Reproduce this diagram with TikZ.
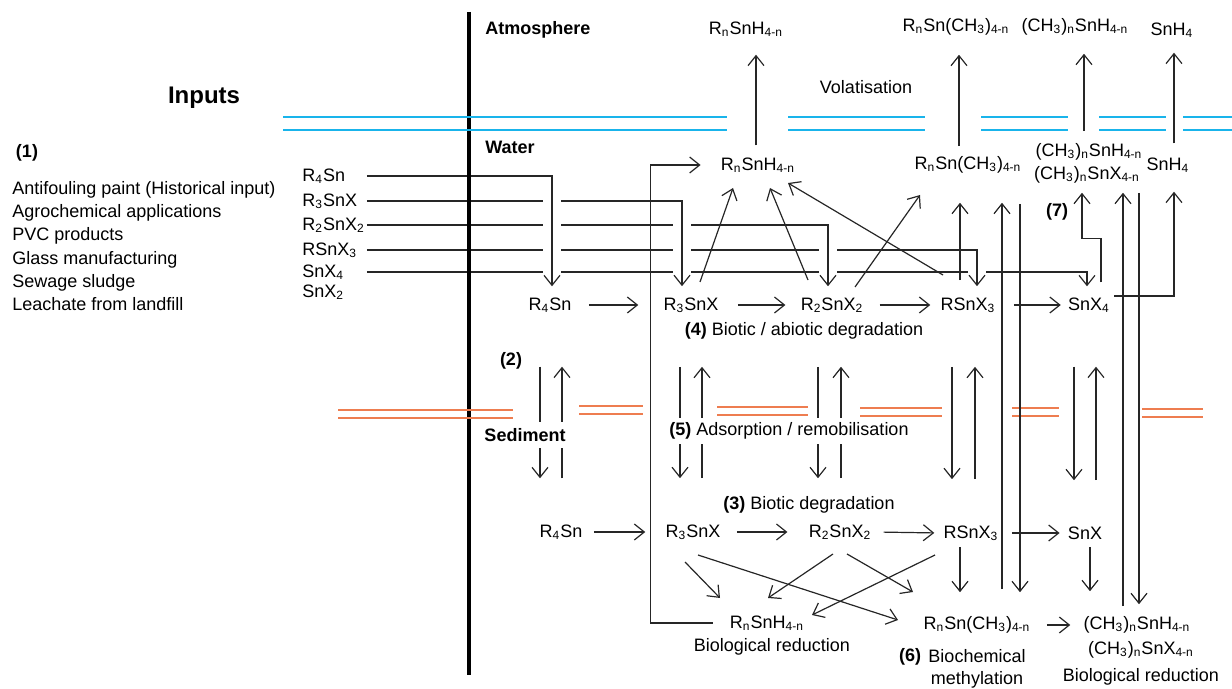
\documentclass[tikz,border=0pt]{standalone}
\usepackage{fontspec}
\setmainfont{Liberation Sans}
\usetikzlibrary{arrows.meta,calc}
\definecolor{waterline}{RGB}{25,180,235}
\definecolor{sedline}{RGB}{238,125,80}
\newcommand{\chsub}[1]{\textsubscript{#1}}

\begin{document}
\begin{tikzpicture}[x=0.5pt,y=-0.5pt,
  sp/.style={font=\fontsize{9}{11}\selectfont,inner sep=2pt},
  insp/.style={sp,anchor=west,text width=30pt,align=left},
  txt/.style={font=\fontsize{9}{11}\selectfont,inner sep=1pt},
  hd/.style={font=\fontsize{9}{11}\selectfont\bfseries,inner sep=1pt},
  arr/.style={-{Straight Barb[length=5pt,width=8pt]},line width=0.6pt,draw=black!85},
  inl/.style={arr,shorten >=3.5pt,preaction={draw=white,line width=9pt,-}}]
\useasboundingbox (0,0) rectangle (1232,689);

\node[hd,font=\fontsize{12}{14}\selectfont\bfseries] (inputs) at (204,98) {Inputs};
\node[hd] (n1) at (27,153) {(1)};
\node[txt,anchor=west,align=left,font=\fontsize{9}{11.6}\selectfont] (src) at (10,246) {Antifouling paint (Historical input)\\Agrochemical applications\\PVC products\\Glass manufacturing\\Sewage sludge\\Leachate from landfill};

\node[insp] (in4) at (298,176) {R\chsub{4}Sn};
\node[insp] (in3) at (298,201) {R\chsub{3}SnX};
\node[insp] (in2) at (298,225) {R\chsub{2}SnX\chsub{2}};
\node[insp] (in1) at (298,250) {RSnX\chsub{3}};
\node[insp] (in0) at (298,272) {SnX\chsub{4}};
\node[insp] (in0b) at (298,292) {SnX\chsub{2}};

\node[hd,anchor=west] (atm) at (483,30) {Atmosphere};
\node[hd,anchor=west] (wat) at (483,147) {Water};
\node[hd] (n2) at (511,361) {(2)};
\node[txt] (vol) at (866,87) {Volatisation};
\node[txt] (deg4) at (804,331) {\textbf{(4)} Biotic / abiotic degradation};
\node[txt] (deg3) at (809,505) {\textbf{(3)} Biotic degradation};
\node[hd] (n7) at (1057,212) {(7)};
\node[txt] (red1) at (772,647) {Biological reduction};
\node[hd] (n6) at (910,657) {(6)};
\node[txt,align=center] (meth) at (977,669) {Biochemical\\methylation};
\node[txt] (red2) at (1141,677) {Biological reduction};

% atmosphere
\node[sp] (aRH) at (746,29) {R\chsub{n}SnH\chsub{4-n}};
\node[sp] (aRM) at (956,27) {R\chsub{n}Sn(CH\chsub{3})\chsub{4-n}};
\node[sp] (aMH) at (1075,27) {(CH\chsub{3})\chsub{n}SnH\chsub{4-n}};
\node[sp] (aSH) at (1172,30) {SnH\chsub{4}};

% water
\node[sp] (wRH) at (758,165) {R\chsub{n}SnH\chsub{4-n}};
\node[sp] (wRM) at (968,165) {R\chsub{n}Sn(CH\chsub{3})\chsub{4-n}};
\node[sp] (wMH) at (1089,152) {(CH\chsub{3})\chsub{n}SnH\chsub{4-n}};
\node[sp] (wMX) at (1087,175) {(CH\chsub{3})\chsub{n}SnX\chsub{4-n}};
\node[sp] (wSH) at (1168,165) {SnH\chsub{4}};
\node[sp] (w4) at (550,305) {R\chsub{4}Sn};
\node[sp] (w3) at (691,305) {R\chsub{3}SnX};
\node[sp] (w2) at (832,305) {R\chsub{2}SnX\chsub{2}};
\node[sp] (w1) at (968,305) {RSnX\chsub{3}};
\node[sp] (w0) at (1089,305) {SnX\chsub{4}};

% sediment
\node[sp] (s4) at (561,532) {R\chsub{4}Sn};
\node[sp] (s3) at (693,532) {R\chsub{3}SnX};
\node[sp] (s2) at (840,532) {R\chsub{2}SnX\chsub{2}};
\node[sp] (s1) at (971,533) {RSnX\chsub{3}};
\node[sp] (s0) at (1085,533) {SnX};
\node[sp] (pRH) at (767,623) {R\chsub{n}SnH\chsub{4-n}};
\node[sp] (pRM) at (977,625) {R\chsub{n}Sn(CH\chsub{3})\chsub{4-n}};
\node[sp] (pMH) at (1137,625) {(CH\chsub{3})\chsub{n}SnH\chsub{4-n}};
\node[sp] (pMX) at (1141,650) {(CH\chsub{3})\chsub{n}SnX\chsub{4-n}};

% inputs
\draw[inl] (in0.east) -| ([xshift=-1pt]w0.north);
\draw[inl] (in1.east) -| ([xshift=4.5pt]w1.north);
\draw[inl] (in2.east) -| ([xshift=-2pt]w2.north);
\draw[inl] (in3.east) -| ([xshift=-4.5pt]w3.north);
\draw[inl] (in4.east) -| ([xshift=1pt]w4.north);

\draw[line width=2pt] (469,12) -- (469,675);
\foreach \xa/\xb in {283/727,788/925,981/1068,1099/1166,1183/1232}
  \draw[waterline,line width=1pt] (\xa,117.5) -- (\xb,117.5) (\xa,130) -- (\xb,130);
\foreach \xa/\xb/\ya in {338/513/410,579/643/406,717/808/407,860/942/408,1012/1059/408,1142/1203/409}
  \draw[sedline,line width=0.8pt] (\xa,\ya) -- (\xb,\ya) (\xa,\ya+8) -- (\xb,\ya+8);

\draw[arr,shorten <=6.5pt,shorten >=10.5pt] (w4.east) -- (w3.west);
\draw[arr,shorten <=7.5pt,shorten >=5.5pt] (w3.east) -- (w2.west);
\draw[arr,shorten <=6pt,shorten >=3pt] (w2.east) -- (w1.west);
\draw[arr,shorten <=7pt,shorten >=1.5pt] (w1.east) -- (w0.west);

\draw[arr,shorten <=4pt,shorten >=7pt] ([xshift=-1pt]wRH.north) -- ([xshift=-1pt]wRH.north |- aRH.south);
\draw[arr,shorten <=3pt,shorten >=7.5pt] ([xshift=-4.5pt]wRM.north) -- ([xshift=-4.5pt]wRM.north |- aRM.south);
\draw[arr,shorten <=4pt,shorten >=7pt] ([xshift=-2.5pt]wMH.north) -- ([xshift=-2.5pt]wMH.north |- aMH.south);
\draw[arr,shorten <=5pt,shorten >=5.5pt] ([xshift=3pt]wSH.north) -- ([xshift=3pt]wSH.north |- aSH.south);

\draw[arr] ([shift={(9,-23)}]w3.center) -- ([shift={(-25,23)}]wRH.center);
\draw[arr] ([shift={(-24,-25)}]w2.center) -- ([shift={(12,23)}]wRH.center);
\draw[arr] ([shift={(-25,-30)}]w1.center) -- ([shift={(30,18)}]wRH.center);
\draw[arr] ([shift={(23,-18)}]w2.center) -- ([shift={(-48,30)}]wRM.center);
\draw[arr,shorten <=6.5pt,shorten >=12.5pt] ([xshift=-4pt]w1.north) -- ([xshift=-4pt]w1.north |- wRM.south);

\draw[arr,shorten <=5.5pt,shorten >=2.5pt] ([xshift=6pt]w0.north) -- ++(0,-55) -| ([xshift=-2.5pt]wMX.south);
\draw[arr,shorten >=7.5pt] ([yshift=4.5pt]w0.east) -| ([xshift=3pt]wSH.south);

\draw[arr,shorten <=11.5pt,shorten >=12.5pt] ([xshift=12.5pt]pRM.north) -- ([xshift=12.5pt]pRM.north |- wRM.south);
\draw[arr,shorten <=13pt,shorten >=10pt] ([xshift=21.5pt]pRM.north |- wRM.south) -- ([xshift=21.5pt]pRM.north);
\draw[arr,shorten <=3pt,shorten >=2.5pt] ([xshift=-7pt]pMH.north) -- ([xshift=-7pt]pMH.north |- wMX.south);
\draw[arr,shorten <=2.5pt,shorten >=4pt] ([xshift=1pt]pMH.north |- wMX.south) -- ([xshift=1pt]pMH.north);

\draw[arr,shorten <=6.5pt,shorten >=8pt] (pRH.west) -- ++(-75,0) |- (wRH.west);

% adsorption / remobilisation
\foreach \n/\xa/\xb in {4/-5/6,3/-5.5/5.5,2/-7/4.5,1/-8/3.5,0/-7.5/3.5}{
  \draw[arr,shorten <=25pt,shorten >=21pt] ([xshift=\xa pt]w\n.south) -- ([xshift=\xa pt]w\n.south |- s\n.north);
  \draw[arr,shorten <=21pt,shorten >=25pt] ([xshift=\xb pt]w\n.south |- s\n.north) -- ([xshift=\xb pt]w\n.south);
}
\node[hd,fill=white,inner ysep=3pt] (sed) at (525,435) {Sediment};
\node[txt,fill=white,inner ysep=2.5pt] (ads5) at (789,431) {\textbf{(5)} Adsorption / remobilisation};

\draw[arr,shorten <=3.5pt,shorten >=8pt] (s4.east) -- (s3.west);
\draw[arr,shorten <=6pt,shorten >=8.5pt] (s3.east) -- (s2.west);
\draw[arr,shorten <=4pt,shorten >=2.5pt] (s2.east) -- (s1.west);
\draw[arr,shorten <=4.5pt,shorten >=2pt] (s1.east) -- (s0.west);

\draw[arr,shorten <=1pt,shorten >=10pt] ([xshift=-5.5pt]s1.south) -- ([xshift=-5.5pt]s1.south |- pRM.north);
\draw[arr,shorten <=1.5pt,shorten >=10.5pt] ([xshift=2.5pt]s0.south) -- ([xshift=2.5pt]s0.south |- pMH.north);
\draw[arr,shorten <=6pt,shorten >=4.5pt] (pRM.east) -- (pMH.west);

\draw[arr] ([shift={(-8,30)}]s3.center) -- ([shift={(-47,-25)}]pRH.center);
\draw[arr] ([shift={(5,23)}]s3.center) -- ([shift={(-79,-5)}]pRM.center);
\draw[arr] ([shift={(-7,22)}]s2.center) -- ([shift={(1,-25)}]pRH.center);
\draw[arr] ([shift={(7,22)}]s2.center) -- ([shift={(-64,-33)}]pRM.center);
\draw[arr] ([shift={(-36,22)}]s1.center) -- ([shift={(45,-8)}]pRH.center);
\end{tikzpicture}
\end{document}
